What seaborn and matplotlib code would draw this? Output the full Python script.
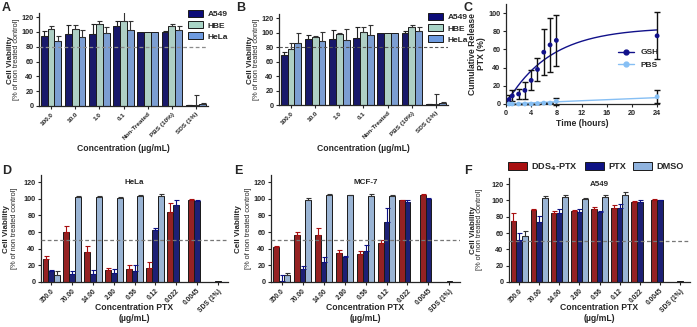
import numpy as np
import pandas as pd
import matplotlib
matplotlib.use("Agg")
import matplotlib.pyplot as plt
from matplotlib.lines import Line2D
from matplotlib.patches import Patch
import seaborn as sns

# ---- data ----
conc_ab = ["100.0", "10.0", "1.0", "0.1", "Non-Treated", "PBS (10%)", "SDS (1%)"]
cells_ab = ["A549", "HBE", "HeLa"]

a_a549 = [95, 97, 97, 108, 100, 100, 1]
a_a549_err = [6, 12, 13, 7, 0, 1, 1]
a_hbe = [104, 104, 111, 115, 100, 108, 2]
a_hbe_err = [4, 5, 4, 15, 0, 3, 13]
a_hela = [87, 93, 98, 102, 100, 103, 3]
a_hela_err = [8, 9, 8, 13, 0, 5, 1]

b_a549 = [69, 91, 91, 92, 100, 100, 1]
b_a549_err = [4, 5, 12, 15, 0, 2, 1]
b_hbe = [77, 94, 98, 101, 100, 108, 2]
b_hbe_err = [9, 1, 2, 6, 0, 3, 13]
b_hela = [86, 88, 90, 96, 100, 102, 3]
b_hela_err = [13, 13, 15, 14, 0, 6, 1]

time_h = [0.5, 1, 2, 3, 4, 5, 6, 7, 8, 24]
gsh = [5, 9, 11, 15, 26, 38, 57, 65, 70, 75]
gsh_err = [5, 6, 6, 9, 11, 13, 25, 30, 28, 26]
pbs = [0, 0, 0, 0, 0, 0.5, 1, 1, 3, 8]
pbs_err = [0, 0, 0, 0, 0, 0, 0, 0, 4, 7]

conc_ptx = ["350.0", "70.00", "14.00", "2.80", "0.56", "0.12", "0.022", "0.0045", "SDS (1%)"]
groups = ["DDS$_\\mathbf{4}$-PTX", "PTX", "DMSO"]
nan = np.nan

d_dds = [28, 60, 36, 14, 16, 17, 84, 99, nan]
d_dds_err = [3, 7, 7, 3, 5, 7, 11, 1, 0]
d_ptx = [13, 10, 10, 11, 13, 62, 93, 97, 1]
d_ptx_err = [2, 3, 4, 5, 7, 3, 5, 1, 0]
d_dmso = [9, 102, 102, 101, 103, 103, nan, nan, nan]
d_dmso_err = [4, 1, 1, 1, 2, 3, 0, 0, 0]

e_dds = [42, 56, 56, 35, 34, 47, 98, 104, nan]
e_dds_err = [1, 4, 9, 3, 3, 3, 1, 2, 0]
e_ptx = [1, 16, 24, 30, 37, 72, 96, 100, 1]
e_ptx_err = [8, 3, 6, 1, 8, 17, 2, 1, 0]
e_dmso = [9, 99, 105, 104, 103, 103, nan, nan, nan]
e_dmso_err = [2, 2, 1, 1, 3, 2, 0, 0, 0]

f_dds = [75, 88, 85, 87, 89, 91, 98, 100, nan]
f_dds_err = [10, 2, 2, 1, 3, 3, 1, 2, 0]
f_ptx = [51, 74, 85, 86, 86, 91, 98, 100, 1]
f_ptx_err = [9, 7, 4, 3, 1, 4, 3, 1, 0]
f_dmso = [56, 103, 104, 102, 104, 106, nan, nan, nan]
f_dmso_err = [7, 2, 2, 1, 3, 4, 0, 0, 0]

cell_colors = ["#0c0c78", "#a9d4c6", "#6e9be0"]
ptx_colors = ["#a80f10", "#0e1284", "#90b3de"]
err_colors_ab = ["#222222", "#333333", "#333333"]
err_colors_ptx = ["#a80f10", "#0e1284", "#333333"]

# ---- style ----
sns.set_style("ticks")
plt.rcParams['font.family'] = ['Liberation Sans', 'DejaVu Sans']
plt.rcParams['font.weight'] = 'bold'
plt.rcParams['axes.labelweight'] = 'bold'
plt.rcParams['axes.linewidth'] = 0.9
plt.rcParams['xtick.major.size'] = 2.5
plt.rcParams['ytick.major.size'] = 2.5
plt.rcParams['xtick.major.width'] = 0.8
plt.rcParams['ytick.major.width'] = 0.8
plt.rcParams['xtick.major.pad'] = 1.5
plt.rcParams['ytick.major.pad'] = 1.5
plt.rcParams['mathtext.default'] = 'bf'

W, H = 697, 327
fig = plt.figure(figsize=(W / 100, H / 100), dpi=100)


def add_ax(l, r, t, b):
    return fig.add_axes([l / W, 1 - b / H, (r - l) / W, (b - t) / H])


def bar_panel(ax, cats, hues, vals, errs, colors, ecolors):
    rows = []
    for h, v, e in zip(hues, vals, errs):
        for c, vv, ee in zip(cats, v, e):
            if not np.isnan(vv):
                rows.append({"cat": c, "hue": h, "val": vv, "err": ee})
    df = pd.DataFrame(rows)
    sns.barplot(data=df, x="cat", y="val", hue="hue", order=cats, hue_order=hues,
                palette=colors, errorbar=None, edgecolor="#1a1a1a", linewidth=0.7,
                width=0.85, legend=False, ax=ax)
    for cont, h, ec in zip(ax.containers, hues, ecolors):
        sub = df[df.hue == h]
        for bar in cont:
            xc = bar.get_x() + bar.get_width() / 2
            ci = int(round(xc))
            r = sub[sub.cat == cats[ci]]
            if len(r) == 0:
                continue
            e = float(r.err.iloc[0])
            if e > 0:
                ax.errorbar(xc, bar.get_height(), yerr=[[0], [e]], fmt="none",
                            ecolor=ec, elinewidth=0.8, capsize=1.8, capthick=0.8)
    ax.set_xlim(-0.5, len(cats) - 0.5)
    sns.despine(ax=ax)
    ax.set_xlabel("")


def viability_labels(ax, off1, off2, width_px):
    ax.text(-off1 / width_px, 0.5, "Cell Viability", rotation=90, transform=ax.transAxes,
            ha="center", va="center", fontsize=5.8, fontweight="bold")
    ax.text(-off2 / width_px, 0.5, "[% of non treated control]", rotation=90,
            transform=ax.transAxes, ha="center", va="center", fontsize=5.3,
            fontweight="normal")


def style_ticks(ax, xfs=4.6, yfs=5.2):
    ax.tick_params(axis="y", labelsize=yfs)
    ax.tick_params(axis="x", labelsize=xfs)
    for lab in ax.get_xticklabels():
        lab.set_rotation(45)
        lab.set_ha("right")
        lab.set_rotation_mode("anchor")


# ---- panel A ----
axA = add_ax(39, 208, 13.3, 106)
bar_panel(axA, conc_ab, cells_ab, [a_a549, a_hbe, a_hela],
          [a_a549_err, a_hbe_err, a_hela_err], cell_colors, err_colors_ab)
axA.set_ylim(0, 125)
axA.set_yticks(range(0, 121, 20))
axA.axhline(80, color="#8c8c8c", ls=(0, (3, 2)), lw=0.9, zorder=3)
style_ticks(axA)
axA.set_ylabel("")
axA.set_xlabel("Concentration (µg/mL)", fontsize=6.2)
axA.xaxis.set_label_coords(0.5, -0.41)
viability_labels(axA, 29, 22, 169)
axA.legend(handles=[Patch(facecolor=c, edgecolor="#1a1a1a", lw=0.7) for c in cell_colors],
           labels=cells_ab, loc="upper left", bbox_to_anchor=(188 / W, 1 - 10 / H),
           bbox_transform=fig.transFigure, frameon=False, fontsize=6,
           handlelength=1.8, handleheight=0.9, labelspacing=0.35, handletextpad=0.6,
           borderaxespad=0, borderpad=0)

# ---- panel B ----
axB = add_ax(279, 448, 14.4, 105)
bar_panel(axB, conc_ab, cells_ab, [b_a549, b_hbe, b_hela],
          [b_a549_err, b_hbe_err, b_hela_err], cell_colors, err_colors_ab)
axB.set_ylim(0, 125)
axB.set_yticks(range(0, 121, 20))
axB.axhline(80, color="#555555", ls=(0, (3, 2)), lw=0.8, zorder=3)
style_ticks(axB)
axB.set_ylabel("")
axB.set_xlabel("Concentration (µg/mL)", fontsize=6.2)
axB.xaxis.set_label_coords(0.5, -0.43)
viability_labels(axB, 29, 22, 169)
axB.legend(handles=[Patch(facecolor=c, edgecolor="#1a1a1a", lw=0.7) for c in cell_colors],
           labels=cells_ab, loc="upper left", bbox_to_anchor=(428 / W, 1 - 13 / H),
           bbox_transform=fig.transFigure, frameon=False, fontsize=6,
           handlelength=1.8, handleheight=0.9, labelspacing=0.35, handletextpad=0.6,
           borderaxespad=0, borderpad=0)

# ---- panel C ----
axC = add_ax(506, 659, 4, 104)
t = np.array(time_h, dtype=float)
tt = np.linspace(0, 24, 200)


def fit_assoc(y):
    y = np.asarray(y, dtype=float)
    best = None
    for k in np.linspace(0.005, 1.5, 600):
        f = 1 - np.exp(-k * t)
        p = (f @ y) / (f @ f)
        sse = np.sum((y - p * f) ** 2)
        if best is None or sse < best[0]:
            best = (sse, k, p)
    return best[2] * (1 - np.exp(-best[1] * tt))


fit_df = pd.DataFrame({"t": np.concatenate([tt, tt]),
                       "y": np.concatenate([fit_assoc(gsh), fit_assoc(pbs)]),
                       "s": ["GSH"] * len(tt) + ["PBS"] * len(tt)})
c_colors = {"GSH": "#11118a", "PBS": "#86bff4"}
sns.lineplot(data=fit_df, x="t", y="y", hue="s", palette=c_colors, lw=1.0,
             legend=False, ax=axC)
axC.errorbar(time_h, gsh, yerr=gsh_err, fmt="none", ecolor="#111111", elinewidth=1.0,
             capsize=2.2, capthick=1.0, clip_on=False)
axC.errorbar(time_h, pbs, yerr=pbs_err, fmt="none", ecolor="#111111", elinewidth=1.0,
             capsize=2.2, capthick=1.0, clip_on=False)
pts = pd.DataFrame({"t": time_h + time_h, "y": gsh + pbs,
                    "s": ["GSH"] * len(time_h) + ["PBS"] * len(time_h)})
sns.scatterplot(data=pts, x="t", y="y", hue="s", palette=c_colors, s=12, linewidth=0,
                legend=False, ax=axC, clip_on=False, zorder=5)
axC.set_xlim(0, 24.3)
axC.set_ylim(0, 110)
axC.set_xticks(range(0, 25, 4))
axC.set_yticks(range(0, 101, 20))
sns.despine(ax=axC)
axC.tick_params(labelsize=5.2)
axC.set_xlabel("Time (hours)", fontsize=6.2, labelpad=2)
axC.set_ylabel("Cumulative Release\nPTX (%)", fontsize=6.2, linespacing=1.0, labelpad=2)
axC.legend(handles=[Line2D([], [], color=c_colors[k], marker="o", ms=3.5, lw=1.0)
                    for k in ["GSH", "PBS"]],
           labels=["GSH", "PBS"], loc="center left", bbox_to_anchor=(0.68, 0.45),
           frameon=False, fontsize=6, handlelength=2.0, labelspacing=0.6)

# ---- panels D, E, F ----
def ptx_panel(ax, vals, errs, title, width_px, off1, off2, height_px):
    bar_panel(ax, conc_ptx, groups, vals, errs, ptx_colors, err_colors_ptx)
    ax.set_ylim(0, 128)
    ax.set_yticks(range(0, 121, 20))
    ax.axhline(50, color="#777777", ls=(0, (3, 2)), lw=0.9, zorder=3)
    style_ticks(ax, xfs=4.8)
    ax.set_ylabel("")
    ax.set_xlabel("Concentration PTX\n(µg/mL)", fontsize=6.2, linespacing=1.25)
    ax.xaxis.set_label_coords(0.5, -21 / height_px)
    ax.text(0.5, 0.93, title, transform=ax.transAxes, ha="center", va="center",
            fontsize=5.8, fontweight="bold")
    viability_labels(ax, off1, off2, width_px)


axD = add_ax(41, 228, 175.4, 282)
ptx_panel(axD, [d_dds, d_ptx, d_dmso], [d_dds_err, d_ptx_err, d_dmso_err],
          "HeLa", 187, 34, 26, 106.6)
axE = add_ax(271, 460, 175.4, 282)
ptx_panel(axE, [e_dds, e_ptx, e_dmso], [e_dds_err, e_ptx_err, e_dmso_err],
          "MCF-7", 189, 32, 22, 106.6)
axF = add_ax(509, 690, 177.5, 282)
ptx_panel(axF, [f_dds, f_ptx, f_dmso], [f_dds_err, f_ptx_err, f_dmso_err],
          "A549", 181, 35, 29, 104.5)
axF.legend(handles=[Patch(facecolor=c, edgecolor="#1a1a1a", lw=0.7) for c in ptx_colors],
           labels=groups, loc="center", bbox_to_anchor=(596 / W, 1 - 167 / H),
           bbox_transform=fig.transFigure, frameon=False, fontsize=6.6, ncol=3,
           handlelength=2.0, handleheight=0.9, handletextpad=0.5, columnspacing=0.8,
           borderaxespad=0, borderpad=0)

# ---- panel letters ----
for letter, x, y in [("A", 2, 2), ("B", 236, 2), ("C", 464, 2),
                     ("D", 2, 165), ("E", 234, 165), ("F", 464, 165)]:
    fig.text(x / W, 1 - y / H, letter, fontsize=9, fontweight="bold", va="top", ha="left")

fig.savefig("out.png", dpi=100)
